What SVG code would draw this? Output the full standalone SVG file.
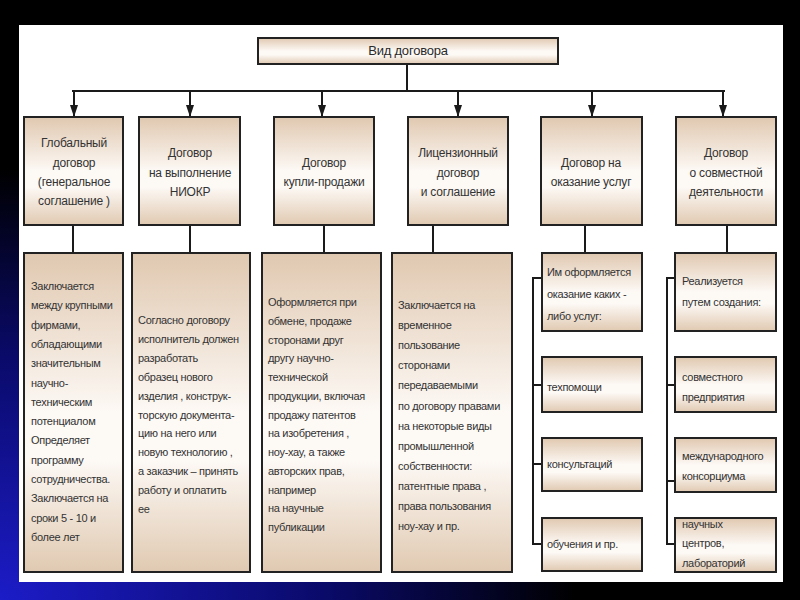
<svg xmlns="http://www.w3.org/2000/svg" width="800" height="600" viewBox="0 0 800 600">
<defs>
<radialGradient id="bg" cx="0" cy="1" r="0.9" gradientUnits="objectBoundingBox">
<stop offset="0" stop-color="#1c1cc8"/>
<stop offset="0.45" stop-color="#0a0a6a"/>
<stop offset="0.8" stop-color="#000000"/>
</radialGradient>
<linearGradient id="fill" x1="0" y1="0" x2="0" y2="1">
<stop offset="0" stop-color="#e0c8b0"/>
<stop offset="0.5" stop-color="#fdf9f5"/>
<stop offset="0.65" stop-color="#fdf9f5"/>
<stop offset="1" stop-color="#e0c9b1"/>
</linearGradient>
<marker id="arr" viewBox="0 0 12 8" refX="12" refY="4" markerWidth="12" markerHeight="8" markerUnits="userSpaceOnUse" orient="auto">
<path d="M0,0 L12,4 L0,8 z" fill="#1a1a1a"/>
</marker>
<style>
.box{fill:url(#fill);stroke:#222;stroke-width:2}
.t{font-family:"Liberation Sans",Arial,sans-serif;font-size:11px;letter-spacing:-0.3px;fill:#333}
.c{text-anchor:middle;font-size:12px;letter-spacing:-0.2px}
.h{text-anchor:middle;font-size:13px;letter-spacing:-0.2px;fill:#2a2a2a}
.ln{stroke:#1a1a1a;stroke-width:2;fill:none}
</style>
</defs>
<rect width="800" height="600" fill="#000"/>
<rect width="800" height="600" fill="url(#bg)"/>
<rect x="19" y="25" width="764" height="557" fill="#ffffff"/>

<g id="connectors">
<path class="ln" d="M407,64 V91 M72,91 H725"/>
<path class="ln" d="M74,91 V117" marker-end="url(#arr)"/>
<path class="ln" d="M190,91 V117" marker-end="url(#arr)"/>
<path class="ln" d="M322,91 V117" marker-end="url(#arr)"/>
<path class="ln" d="M458,91 V117" marker-end="url(#arr)"/>
<path class="ln" d="M592,91 V117" marker-end="url(#arr)"/>
<path class="ln" d="M723,91 V117" marker-end="url(#arr)"/>
<path class="ln" d="M73,225 V253 M190,225 V253 M324,225 V253 M433,225 V253 M585,225 V253 M727,225 V253"/>
<path class="ln" d="M542,278 H533 V544 H542 M533,385 H542 M533,464 H542"/>
<path class="ln" d="M675,278 H667 V544 H675 M667,385 H675 M667,481 H675"/>
</g>

<g id="root">
<rect class="box" x="258" y="38" width="300" height="26"/>
<text class="t h" x="408" y="55">Вид договора</text>
</g>

<g id="n1">
<rect class="box" x="24" y="117" width="99" height="108"/>
<text class="t c" x="74" y="147">Глобальный</text>
<text class="t c" x="74" y="167">договор</text>
<text class="t c" x="74" y="186">(генеральное</text>
<text class="t c" x="74" y="205">соглашение )</text>
</g>
<g id="n2">
<rect class="box" x="139" y="117" width="101" height="108"/>
<text class="t c" x="190" y="157">Договор</text>
<text class="t c" x="190" y="177">на выполнение</text>
<text class="t c" x="190" y="196">НИОКР</text>
</g>
<g id="n3">
<rect class="box" x="274" y="117" width="100" height="108"/>
<text class="t c" x="324" y="167">Договор</text>
<text class="t c" x="324" y="186">купли-продажи</text>
</g>
<g id="n4">
<rect class="box" x="408" y="117" width="100" height="108"/>
<text class="t c" x="458" y="157">Лицензионный</text>
<text class="t c" x="458" y="177">договор</text>
<text class="t c" x="458" y="196">и соглашение</text>
</g>
<g id="n5">
<rect class="box" x="541" y="117" width="101" height="108"/>
<text class="t c" x="591" y="167">Договор на</text>
<text class="t c" x="591" y="186">оказание услуг</text>
</g>
<g id="n6">
<rect class="box" x="676" y="117" width="100" height="108"/>
<text class="t c" x="726" y="157">Договор</text>
<text class="t c" x="726" y="177">о совместной</text>
<text class="t c" x="726" y="196">деятельности</text>
</g>

<g id="d1">
<rect class="box" x="24" y="253" width="99" height="319"/>
<text class="t" x="31" y="290">Заключается</text>
<text class="t" x="31" y="309.3">между крупными</text>
<text class="t" x="31" y="328.6">фирмами,</text>
<text class="t" x="31" y="347.9">обладающими</text>
<text class="t" x="31" y="367.2">значительным</text>
<text class="t" x="31" y="386.5">научно-</text>
<text class="t" x="31" y="405.8">техническим</text>
<text class="t" x="31" y="425.1">потенциалом</text>
<text class="t" x="31" y="444.4">Определяет</text>
<text class="t" x="31" y="463.7">программу</text>
<text class="t" x="31" y="483">сотрудничества.</text>
<text class="t" x="31" y="502.3">Заключается на</text>
<text class="t" x="31" y="521.6">сроки 5 - 10 и</text>
<text class="t" x="31" y="540.9">более лет</text>
</g>
<g id="d2">
<rect class="box" x="132" y="253" width="118" height="319"/>
<text class="t" x="138" y="324">Согласно договору</text>
<text class="t" x="138" y="342.9">исполнитель должен</text>
<text class="t" x="138" y="361.8">разработать</text>
<text class="t" x="138" y="380.7">образец нового</text>
<text class="t" x="138" y="399.6">изделия , конструк-</text>
<text class="t" x="138" y="418.5">торскую документа-</text>
<text class="t" x="138" y="437.4">цию на него или</text>
<text class="t" x="138" y="456.3">новую технологию ,</text>
<text class="t" x="138" y="475.2">а заказчик – принять</text>
<text class="t" x="138" y="494.1">работу и оплатить</text>
<text class="t" x="138" y="513">ее</text>
</g>
<g id="d3">
<rect class="box" x="262" y="253" width="119" height="319"/>
<text class="t" x="268" y="306">Оформляется при</text>
<text class="t" x="268" y="324.8">обмене, продаже</text>
<text class="t" x="268" y="343.5">сторонами друг</text>
<text class="t" x="268" y="362.3">другу научно-</text>
<text class="t" x="268" y="381">технической</text>
<text class="t" x="268" y="399.8">продукции, включая</text>
<text class="t" x="268" y="418.5">продажу патентов</text>
<text class="t" x="268" y="437.3">на изобретения ,</text>
<text class="t" x="268" y="456">ноу-хау, а также</text>
<text class="t" x="268" y="474.8">авторских прав,</text>
<text class="t" x="268" y="493.5">например</text>
<text class="t" x="268" y="512.3">на научные</text>
<text class="t" x="268" y="531">публикации</text>
</g>
<g id="d4">
<rect class="box" x="392" y="253" width="120" height="319"/>
<text class="t" x="398" y="309">Заключается на</text>
<text class="t" x="398" y="329.1">временное</text>
<text class="t" x="398" y="349.2">пользование</text>
<text class="t" x="398" y="369.3">сторонами</text>
<text class="t" x="398" y="389.4">передаваемыми</text>
<text class="t" x="398" y="409.5">по договору правами</text>
<text class="t" x="398" y="429.6">на некоторые виды</text>
<text class="t" x="398" y="449.7">промышленной</text>
<text class="t" x="398" y="469.8">собственности:</text>
<text class="t" x="398" y="489.9">патентные права ,</text>
<text class="t" x="398" y="510">права пользования</text>
<text class="t" x="398" y="530.1">ноу-хау и пр.</text>
</g>

<g id="s5a">
<rect class="box" x="542" y="253" width="100" height="78"/>
<text class="t" x="547" y="276">Им оформляется</text>
<text class="t" x="547" y="298">оказание каких -</text>
<text class="t" x="547" y="320">либо услуг:</text>
</g>
<g id="s5b">
<rect class="box" x="542" y="357" width="100" height="55"/>
<text class="t" x="547" y="391">техпомощи</text>
</g>
<g id="s5c">
<rect class="box" x="542" y="438" width="100" height="53"/>
<text class="t" x="547" y="468">консультаций</text>
</g>
<g id="s5d">
<rect class="box" x="542" y="518" width="100" height="53"/>
<text class="t" x="547" y="548">обучения и пр.</text>
</g>

<g id="s6a">
<rect class="box" x="675" y="253" width="101" height="78"/>
<text class="t" x="682" y="285">Реализуется</text>
<text class="t" x="682" y="306">путем создания:</text>
</g>
<g id="s6b">
<rect class="box" x="675" y="357" width="101" height="55"/>
<text class="t" x="682" y="381">совместного</text>
<text class="t" x="682" y="401">предприятия</text>
</g>
<g id="s6c">
<rect class="box" x="675" y="438" width="101" height="54"/>
<text class="t" x="682" y="460">международного</text>
<text class="t" x="682" y="480">консорциума</text>
</g>
<g id="s6d">
<rect class="box" x="675" y="518" width="101" height="54"/>
<text class="t" x="682" y="528">научных</text>
<text class="t" x="682" y="547">центров,</text>
<text class="t" x="682" y="567">лабораторий</text>
</g>
</svg>
